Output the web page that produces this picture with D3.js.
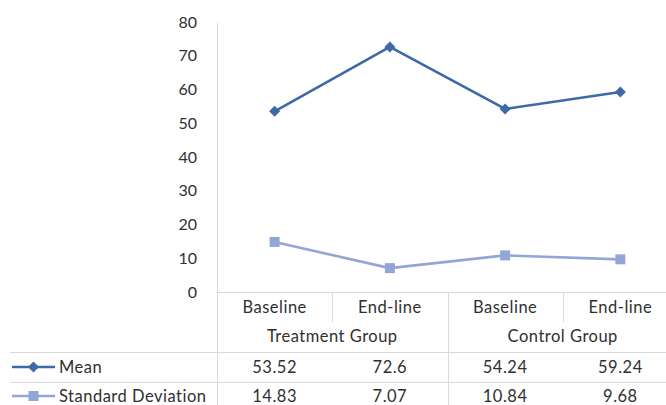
<!DOCTYPE html>
<html>
<head>
<meta charset="utf-8">
<script src="https://cdn.jsdelivr.net/npm/d3@7/dist/d3.min.js"></script>
<style>
  html, body { margin: 0; padding: 0; background: #fff; }
  svg { display: block; font-family: Lato, "Open Sans", sans-serif; }
</style>
</head>
<body>
<svg id="chart" width="666" height="405"></svg>
<script>
// Study results: means and standard deviations by group and time point
const categories = ["Baseline", "End-line", "Baseline", "End-line"];
const groups = ["Treatment Group", "Control Group"];
const meanValues = [53.52, 72.6, 54.24, 59.24];
const sdValues = [14.83, 7.07, 10.84, 9.68];
const yTicks = [0, 10, 20, 30, 40, 50, 60, 70, 80];

const series = [
  { name: "Mean", values: meanValues, color: "#3d69a8", marker: "diamond", width: 2.6 },
  { name: "Standard Deviation", values: sdValues, color: "#93a7d6", marker: "square", width: 2.6 }
];

const svg = d3.select("#chart");
const plotLeft = 217, plotRight = 678, plotTop = 22, plotBottom = 292;
const textColor = "#303030";
const gridColor = "#d9d9d9";
const fontSize = 16.5;
const letterSpacing = "0.5px";

const x = d3.scaleBand().domain(d3.range(categories.length)).range([plotLeft, plotRight]).padding(0);
const xg = d3.scaleBand().domain(d3.range(groups.length)).range([plotLeft, plotRight]).padding(0);
const y = d3.scaleLinear().domain([0, 80]).range([plotBottom, plotTop]);

// Y axis
const yAxis = svg.append("g")
  .attr("transform", `translate(${plotLeft},0)`)
  .call(d3.axisLeft(y).tickValues(yTicks).tickSize(0).tickPadding(20));
yAxis.select(".domain").attr("stroke", gridColor).attr("stroke-width", 1);
yAxis.selectAll("text")
  .attr("fill", textColor)
  .style("font-size", "16px")
  .style("font-family", "Lato, 'Open Sans', sans-serif");

// Data table grid
const rowY = { cat: 292, group: 322, mean: 352, sd: 382, end: 412 };
const tableLeft = 10;
const grid = svg.append("g").attr("stroke", gridColor).attr("stroke-width", 1).attr("shape-rendering", "crispEdges");
grid.append("line").attr("x1", plotLeft).attr("x2", plotRight).attr("y1", rowY.cat + 0.5).attr("y2", rowY.cat + 0.5);
[rowY.mean, rowY.sd, rowY.end].forEach(v =>
  grid.append("line").attr("x1", tableLeft).attr("x2", plotRight).attr("y1", v + 0.5).attr("y2", v + 0.5));
// vertical lines: category separators span only the first header row
d3.range(1, categories.length).forEach(i => {
  const xv = Math.round(x(i)) + 0.5;
  const isGroupBoundary = i % 2 === 0;
  grid.append("line").attr("x1", xv).attr("x2", xv)
    .attr("y1", rowY.cat).attr("y2", isGroupBoundary ? rowY.end : rowY.group);
});
grid.append("line").attr("x1", plotLeft + 0.5).attr("x2", plotLeft + 0.5).attr("y1", rowY.cat).attr("y2", rowY.end);

const txt = svg.append("g").attr("fill", textColor)
  .style("font-size", fontSize + "px").style("letter-spacing", letterSpacing)
  .attr("text-anchor", "middle");
// category labels
txt.selectAll(".cat").data(categories).join("text")
  .attr("x", (d, i) => x(i) + x.bandwidth() / 2).attr("y", 307).attr("dy", "0.35em").text(d => d);
// group labels
txt.selectAll(".grp").data(groups).join("text")
  .attr("x", (d, i) => xg(i) + xg.bandwidth() / 2).attr("y", 336).attr("dy", "0.35em").text(d => d);
// value rows
series.forEach((s, si) => {
  const rowMid = si === 0 ? 367 : 396;
  txt.selectAll(".v" + si).data(s.values).join("text")
    .attr("class", "v" + si)
    .attr("x", (d, i) => x(i) + x.bandwidth() / 2).attr("y", rowMid).attr("dy", "0.35em").text(d => d);
});

// marker drawing
function drawMarker(g, type, cx, cy, color) {
  if (type === "diamond") {
    const r = 5.5;
    g.append("path").attr("d", `M${cx},${cy - r}L${cx + r},${cy}L${cx},${cy + r}L${cx - r},${cy}Z`).attr("fill", color);
  } else {
    const h = 5;
    g.append("rect").attr("x", cx - h).attr("y", cy - h).attr("width", 2 * h).attr("height", 2 * h).attr("fill", color);
  }
}

// series lines and markers
const line = d3.line().x((d, i) => x(i) + x.bandwidth() / 2).y(d => y(d));
series.forEach(s => {
  const g = svg.append("g");
  g.append("path").datum(s.values).attr("d", line).attr("fill", "none")
    .attr("stroke", s.color).attr("stroke-width", s.width).attr("stroke-linejoin", "round");
  s.values.forEach((v, i) => drawMarker(g, s.marker, x(i) + x.bandwidth() / 2, y(v), s.color));
});

// legend keys in the data table
series.forEach((s, si) => {
  const cy = si === 0 ? 367 : 396;
  const g = svg.append("g");
  g.append("line").attr("x1", 12).attr("x2", 55).attr("y1", cy).attr("y2", cy)
    .attr("stroke", s.color).attr("stroke-width", s.width);
  drawMarker(g, s.marker, 33.5, cy, s.color);
  g.append("text").attr("x", 59).attr("y", cy).attr("dy", "0.35em")
    .attr("fill", textColor).style("font-size", fontSize + "px").style("letter-spacing", letterSpacing)
    .text(s.name);
});
</script>
</body>
</html>
